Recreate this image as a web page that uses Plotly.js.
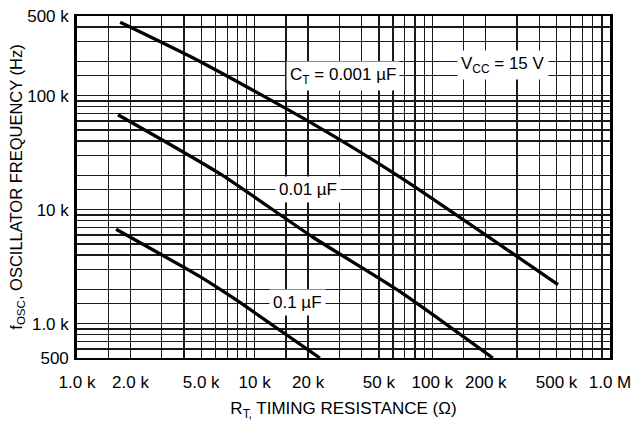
<!DOCTYPE html>
<html>
<head>
<meta charset="utf-8">
<script src="https://cdn.plot.ly/plotly-3.0.1.min.js"></script>
<style>html,body{margin:0;padding:0;background:#fff;}#chart{width:643px;height:424px;}</style>
</head>
<body>
<div id="chart"></div>
<script>
// ---- data ----
// timing resistance (ohm) and oscillator frequency (Hz) per timing capacitor
const rt001 = [1750, 4920, 21300, 65800, 510000];
const f001  = [440000, 199500, 56600, 19300, 2200];
const rt01  = [1700, 6400, 21300, 65800, 219000];
const f01   = [68100, 20600, 5730, 1910, 500];
const rt1   = [1660, 4900, 6400, 8300, 23300];
const f1    = [6730, 2600, 2000, 1530, 500];

// tick labels
const xTickVals = [1e3, 2e3, 5e3, 1e4, 2e4, 5e4, 1e5, 2e5, 5e5, 1e6];
const xTickText = ['1.0 k', '2.0 k', '5.0 k', '10 k', '20 k', '50 k', '100 k', '200 k', '500 k', '1.0 M'];
const yTickVals = [500, 1e3, 1e4, 1e5, 5e5];
const yTickText = ['500', '1.0 k', '10 k', '100 k', '500 k'];

// grid mantissas per decade
const gridMantissa = [1, 1.5, 2, 3, 4, 5, 6, 7, 8, 9];

// curve labels
const curveLabels = [
  {text: 'C<sub>T</sub> = 0.001 µF', x: 31400, y: 150000},
  {text: 'V<sub>CC</sub> = 15 V', x: 250000, y: 184000},
  {text: '0.01 µF', x: 20000, y: 14900},
  {text: '0.1 µF', x: 17400, y: 1530}
];

// ---- build grid ticks ----
function buildTicks(lo, hi, labVals, labText) {
  const vals = [];
  for (let d = 1; d <= 1e7; d *= 10) {
    gridMantissa.forEach(m => {
      const v = m * d;
      if (v >= lo * 0.999 && v <= hi * 1.001) vals.push(v);
    });
  }
  labVals.forEach(v => { if (!vals.some(u => Math.abs(u - v) / v < 1e-6)) vals.push(v); });
  vals.sort((a, b) => a - b);
  const text = vals.map(v => {
    const i = labVals.findIndex(u => Math.abs(u - v) / v < 1e-6);
    return i >= 0 ? labText[i] : '';
  });
  return {vals, text};
}
const xt = buildTicks(1e3, 1e6, xTickVals, xTickText);
const yt = buildTicks(500, 5e5, yTickVals, yTickText);

const lineStyle = {color: '#000', width: 3.3, shape: 'spline', smoothing: 0.6};
const traces = [
  {x: rt001, y: f001, mode: 'lines', line: lineStyle, hoverinfo: 'skip'},
  {x: rt01, y: f01, mode: 'lines', line: lineStyle, hoverinfo: 'skip'},
  {x: rt1, y: f1, mode: 'lines', line: lineStyle, hoverinfo: 'skip'}
];

const font = {family: 'Liberation Sans, Arial, sans-serif', size: 17, color: '#000'};
const titleFont = {family: 'Liberation Sans, Arial, sans-serif', size: 16.5, color: '#000'};

const layout = {
  width: 643, height: 424,
  margin: {l: 77, r: 33, t: 16, b: 66},
  paper_bgcolor: '#fff', plot_bgcolor: '#fff',
  showlegend: false,
  font: font,
  xaxis: {
    type: 'log', range: [3, 6],
    tickmode: 'array', tickvals: xt.vals, ticktext: xt.text,
    ticks: '', ticklabelstandoff: 7,
    showgrid: true, gridcolor: '#1a1a1a', gridwidth: 1.3,
    showline: true, linecolor: '#000', linewidth: 2.4, mirror: true,
    zeroline: false, tickfont: font,
    title: {text: 'R<sub>T,</sub> TIMING RESISTANCE (Ω)', font: font, standoff: 12}
  },
  yaxis: {
    type: 'log', range: [Math.log10(500), Math.log10(5e5)],
    tickmode: 'array', tickvals: yt.vals, ticktext: yt.text,
    ticks: '', ticklabelstandoff: 2,
    showgrid: true, gridcolor: '#1a1a1a', gridwidth: 1.3,
    showline: true, linecolor: '#000', linewidth: 2.8, mirror: true,
    zeroline: false, tickfont: font,
    title: {text: 'f<sub>OSC</sub>, OSCILLATOR FREQUENCY (Hz)', font: titleFont, standoff: 0}
  },
  annotations: curveLabels.map(a => ({
    x: Math.log10(a.x), y: Math.log10(a.y), xref: 'x', yref: 'y',
    text: a.text, showarrow: false, font: font,
    bgcolor: '#fff', borderpad: 3
  }))
};

Plotly.newPlot('chart', traces, layout, {staticPlot: true, displayModeBar: false});
</script>
</body>
</html>
